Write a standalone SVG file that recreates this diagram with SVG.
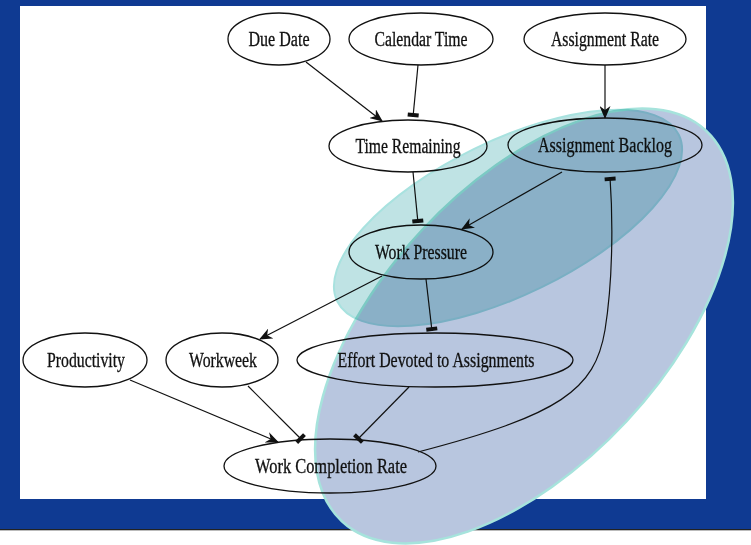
<svg xmlns="http://www.w3.org/2000/svg" width="751" height="545" viewBox="0 0 751 545">
  <style>
    .node ellipse { fill: none; stroke: #111; stroke-width: 1.3; }
    .node text { font-family: "Liberation Serif", "Times New Roman", serif; font-size: 20px; fill: #111; stroke: #111; stroke-width: 0.3; text-anchor: middle; }
    .edge { fill: none; stroke: #111; stroke-width: 1.2; }
    .arrow { marker-end: url(#vee); }
    .inhib { marker-end: url(#tee); }
  </style>
  <defs>
    <marker id="vee" viewBox="0 0 13 11" refX="12" refY="5.5" markerWidth="13" markerHeight="11" markerUnits="userSpaceOnUse" orient="auto">
      <path d="M0,0 L13,5.5 L0,11 L4,5.5 Z" fill="#111"/>
    </marker>
    <marker id="tee" viewBox="-5 -7 7 14" refX="0" refY="0" markerWidth="7" markerHeight="14" markerUnits="userSpaceOnUse" orient="auto">
      <rect x="-4" y="-5.5" width="4" height="11" fill="#111"/>
    </marker>
  </defs>

  <!-- slide background -->
  <rect x="0" y="0" width="751" height="545" fill="#ffffff"/>
  <rect x="0" y="0" width="751" height="529" fill="#0f3a92"/>
  <rect x="0" y="529" width="751" height="1" fill="#222"/>
  <rect x="0" y="530" width="751" height="1" fill="#bbb"/>
  <rect x="20" y="6" width="686" height="493" fill="#ffffff"/>

  <!-- outer highlight region -->
  <ellipse id="region-outer" cx="524" cy="326" rx="267" ry="140" transform="rotate(-47 524 326)" fill="#b8c6df" stroke="#a6e3dc" stroke-width="2.5"/>

  <!-- connectors -->
  <g id="edges">
    <path class="edge arrow" d="M306,62 L382,121"/>
    <path class="edge inhib" d="M418,65 L413,117"/>
    <path class="edge arrow" d="M605,65 L605,118"/>
    <path class="edge inhib" d="M413,172 L418,223"/>
    <path class="edge arrow" d="M562,172 L462,229"/>
    <path class="edge arrow" d="M382,276 L260,339"/>
    <path class="edge inhib" d="M426,279 L432,331"/>
    <path class="edge arrow" d="M130,380 L278,442"/>
    <path class="edge inhib" d="M248,386 L302,440"/>
    <path class="edge inhib" d="M409,387 L357,440"/>
    <path class="edge inhib" d="M418,452 C560,415 595,390 605,330 C613,280 613,220 610,177"/>
  </g>

  <!-- nodes -->
  <g id="due-date" class="node">
    <ellipse cx="279" cy="39" rx="51" ry="26"/>
    <text x="279" y="46" textLength="61" lengthAdjust="spacingAndGlyphs">Due Date</text>
  </g>
  <g id="calendar-time" class="node">
    <ellipse cx="421" cy="39" rx="72" ry="26"/>
    <text x="421" y="46" textLength="93" lengthAdjust="spacingAndGlyphs">Calendar Time</text>
  </g>
  <g id="assignment-rate" class="node">
    <ellipse cx="605" cy="39" rx="81" ry="26"/>
    <text x="605" y="46" textLength="108" lengthAdjust="spacingAndGlyphs">Assignment Rate</text>
  </g>
  <g id="time-remaining" class="node">
    <ellipse cx="408" cy="146" rx="79" ry="26"/>
    <text x="408" y="153" textLength="105" lengthAdjust="spacingAndGlyphs">Time Remaining</text>
  </g>
  <g id="assignment-backlog" class="node">
    <ellipse cx="605" cy="145" rx="97" ry="27"/>
    <text x="605" y="152" textLength="134" lengthAdjust="spacingAndGlyphs">Assignment Backlog</text>
  </g>
  <g id="work-pressure" class="node">
    <ellipse cx="421" cy="252" rx="72" ry="27"/>
    <text x="421" y="259" textLength="92" lengthAdjust="spacingAndGlyphs">Work Pressure</text>
  </g>
  <g id="productivity" class="node">
    <ellipse cx="85" cy="360" rx="62" ry="27"/>
    <text x="86" y="367" textLength="78" lengthAdjust="spacingAndGlyphs">Productivity</text>
  </g>
  <g id="workweek" class="node">
    <ellipse cx="222" cy="360" rx="56" ry="27"/>
    <text x="223" y="367" textLength="68" lengthAdjust="spacingAndGlyphs">Workweek</text>
  </g>
  <g id="effort-devoted" class="node">
    <ellipse cx="435" cy="360" rx="138" ry="27"/>
    <text x="436" y="367" textLength="197" lengthAdjust="spacingAndGlyphs">Effort Devoted to Assignments</text>
  </g>
  <g id="work-completion-rate" class="node">
    <ellipse cx="330" cy="466" rx="106" ry="27"/>
    <text x="331" y="473" textLength="152" lengthAdjust="spacingAndGlyphs">Work Completion Rate</text>
  </g>

  <!-- inner highlight region, tinting what lies beneath -->
  <ellipse id="region-inner" cx="508" cy="218" rx="190" ry="77" transform="rotate(-26 508 218)" fill="#bfe3e4" stroke="#a8e2df" stroke-width="2" style="mix-blend-mode:multiply"/>
</svg>
